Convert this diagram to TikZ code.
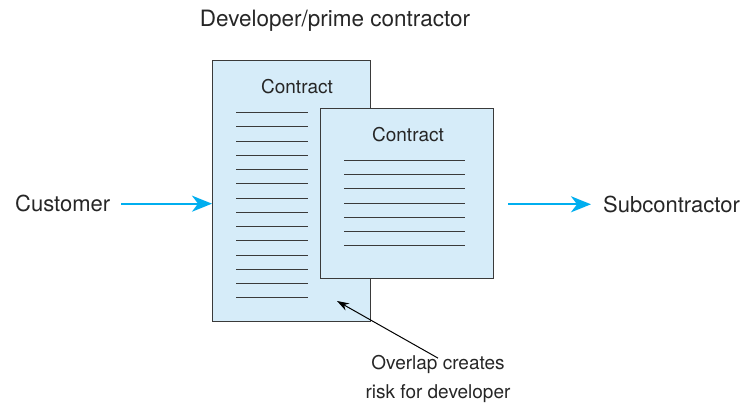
\documentclass[tikz,border=0pt]{standalone}
\usepackage{fontspec}
\setmainfont{TeX Gyre Heros}
\usetikzlibrary{arrows.meta, positioning}
\definecolor{docblue}{HTML}{D6ECF9}
\definecolor{flowcyan}{HTML}{00AEEF}
\definecolor{rulegray}{HTML}{3A3A3A}

\begin{document}
\begin{tikzpicture}[x=1pt, y=-1pt, font=\fontsize{19}{29}\selectfont,
    doc/.style={draw=rulegray, line width=1pt, fill=docblue, inner sep=0pt, anchor=north west},
    textline/.style={rulegray, line width=1.5pt},
    label/.style={inner sep=0pt, text=black!85},
    party/.style={label, font=\fontsize{22}{26}\selectfont},
    flow/.style={flowcyan, line width=2pt, -{Stealth[length=20pt, width=16pt, inset=6pt]}}]
        \useasboundingbox (0,0) rectangle (749,402);

        \node[party, anchor=base, font=\fontsize{22.5}{27}\selectfont] (title) at (335,26.7) {Developer/prime contractor};

        % main contract and its text
        \node[doc, minimum width=158pt, minimum height=261pt] (main) at (212,60) {};
        \node[label, anchor=base] (maintitle) at (297,93.5) {Contract};
        \foreach \i [evaluate=\i as \ly using {round(112+14.25*\i)+0.5}] in {0,...,13}
            \draw[textline] (236,\ly) -- (308,\ly);

        % subcontract on top
        \node[doc, minimum width=173pt, minimum height=170pt] (sub) at (320,108) {};
        \node[label, anchor=base] (subtitle) at (408,141) {Contract};
        \foreach \i [evaluate=\i as \ly using {round(160+14.17*\i)+0.5}] in {0,...,6}
            \draw[textline] (344,\ly) -- (465,\ly);

        \node[party, anchor=base west] (customer) at (15,211.7) {Customer};
        \node[party, anchor=base west] (subcon) at (603,212.3) {Subcontractor};

        \draw[flow] ([xshift=11pt]customer.east) -- (main.west |- customer.east);
        \draw[flow] ([xshift=14pt]sub.east |- subcon.west) -- ([xshift=-12pt]subcon.west);

        % overlap note
        \node[label, align=center, anchor=base] (note) at (438,398.5) {Overlap creates\\risk for developer};
        \coordinate (overlap) at (337,301);
        \draw[black, line width=1pt, -{Stealth[length=12pt, width=8pt]}] ([yshift=-3pt]note.north) -- (overlap);
\end{tikzpicture}
\end{document}
